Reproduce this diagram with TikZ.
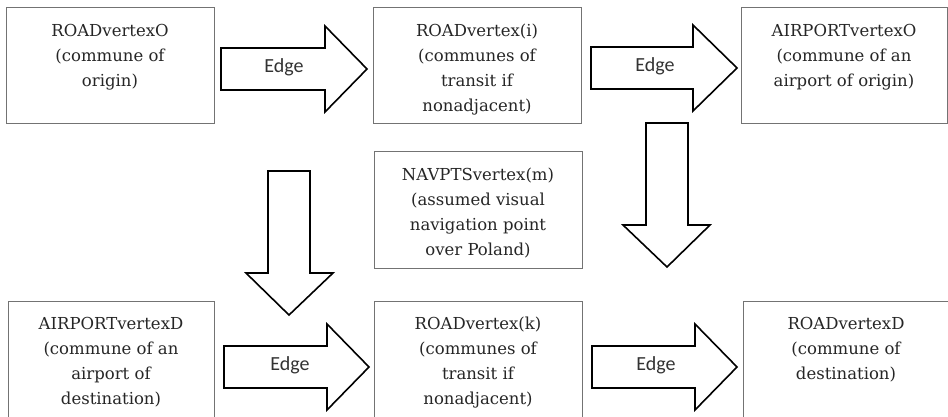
\documentclass[tikz,border=0pt]{standalone}
\usepackage{fontspec}
\setmainfont{DejaVu Serif}
\newfontfamily\edgefont{Carlito}
\begin{document}
\begin{tikzpicture}[x=1pt,y=-1pt,
  box/.style={draw=black!55, line width=0.8pt, fill=white},
  txt/.style={anchor=north, align=center, inner sep=0pt, text=black!85, font=\fontsize{16.5}{25}\selectfont},
  blk/.style={draw=black, line width=1.6pt, fill=white, line join=miter},
  edgelbl/.style={inner sep=0pt, font=\edgefont\fontsize{20}{24}\selectfont, text=black!80}]
\useasboundingbox (0,0) rectangle (948,417);
\fill[white] (0,0) rectangle (948,417);
% boxes
\draw[box] (6,7) rectangle (214,123);
\draw[box] (373,7) rectangle (581,123);
\draw[box] (741,7) rectangle (947,123);
\draw[box] (374,151) rectangle (582,268);
\draw[box] (8,301) rectangle (214,425);
\draw[box] (374,301) rectangle (582,425);
\draw[box] (743,301) rectangle (955,425);
% texts
\node[txt] (t1) at (110,24) {ROADvertexO\\(commune of\\origin)};
\node[txt] (t2) at (477,24) {ROADvertex(i)\\(communes of\\transit if\\nonadjacent)};
\node[txt] (t3) at (844,24) {AIRPORTvertexO\\(commune of an\\airport of origin)};
\node[txt] (t4) at (478,168) {NAVPTSvertex(m)\\(assumed visual\\navigation point\\over Poland)};
\node[txt] (t5) at (111,317) {AIRPORTvertexD\\(commune of an\\airport of\\destination)};
\node[txt] (t6) at (478,317) {ROADvertex(k)\\(communes of\\transit if\\nonadjacent)};
\node[txt] (t7) at (846,317) {ROADvertexD\\(commune of\\destination)};
% horizontal block arrows
\draw[blk] (221,48)--(325,48)--(325,26)--(367,69)--(325,112)--(325,90)--(221,90)--cycle;
\draw[blk] (591,47)--(693,47)--(693,25)--(737,68)--(693,111)--(693,89)--(591,89)--cycle;
\draw[blk] (224,346)--(327,346)--(327,324)--(369,367)--(327,410)--(327,388)--(224,388)--cycle;
\draw[blk] (592,346)--(695,346)--(695,324)--(737,367)--(695,410)--(695,388)--(592,388)--cycle;
% vertical block arrows
\draw[blk] (646,123)--(688,123)--(688,225)--(710,225)--(667,267)--(623,225)--(646,225)--cycle;
\draw[blk] (268,171)--(310,171)--(310,273)--(333,273)--(289,315)--(246,273)--(268,273)--cycle;
% edge labels
\node[edgelbl] (e1) at (284,67) {Edge};
\node[edgelbl] (e2) at (655,66) {Edge};
\node[edgelbl] (e3) at (290,365) {Edge};
\node[edgelbl] (e4) at (656,365) {Edge};
\end{tikzpicture}
\end{document}
